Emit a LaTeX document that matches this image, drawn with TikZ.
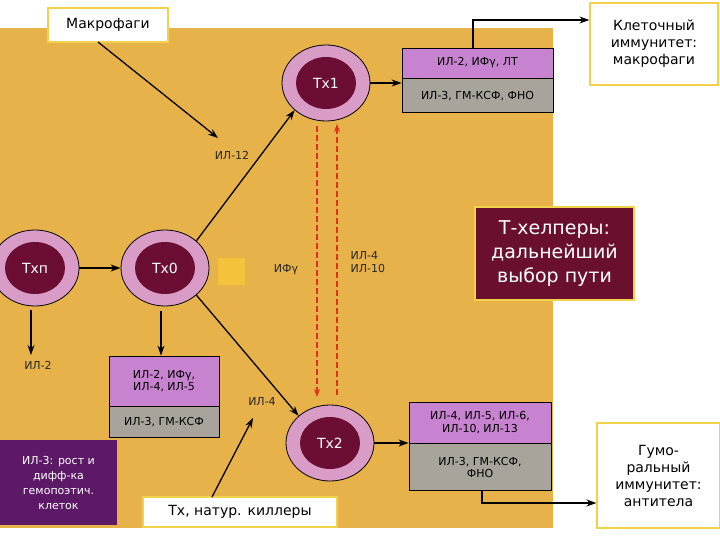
\documentclass[tikz,border=0pt]{standalone}
\usepackage{fontspec}
\setmainfont{DejaVu Sans}
\usetikzlibrary{arrows.meta,shapes.geometric}
\definecolor{bgor}{HTML}{E8B24A}
\definecolor{lilac}{HTML}{C783CF}
\definecolor{grayb}{HTML}{A8A39B}
\definecolor{cellout}{HTML}{D99CC6}
\definecolor{cellin}{HTML}{6C0E33}
\definecolor{maroon}{HTML}{6A0F2E}
\definecolor{violetb}{HTML}{5C1A66}
\definecolor{yel}{HTML}{F2D24A}
\definecolor{redd}{HTML}{E0301E}
\tikzset{
 wbox/.style={draw=yel,line width=1.2pt,fill=white,align=center,font=\fontsize{14}{16}\selectfont,inner sep=0pt},
 lab/.style={font=\fontsize{11}{13}\selectfont,text=black!85},
 cell/.style={ellipse,draw=black,line width=0.8pt,fill=cellout,minimum width=88pt,minimum height=76pt},
 core/.style={ellipse,fill=cellin,minimum width=60pt,minimum height=52pt,text=white,font=\fontsize{14}{16}\selectfont},
 pbox/.style={draw=black,line width=0.8pt,fill=lilac,align=center,font=\fontsize{11}{12.5}\selectfont,inner sep=0pt},
 gbox/.style={draw=black,line width=0.8pt,fill=grayb,align=center,font=\fontsize{11}{12.5}\selectfont,inner sep=0pt},
 arr/.style={-{Stealth[length=10pt,width=7pt]},line width=1.3pt},
 rarr/.style={-{Stealth[length=8pt,width=6pt]},line width=1.6pt,draw=redd,dash pattern=on 6pt off 3pt},
}
\begin{document}
\begin{tikzpicture}[x=1pt,y=-1pt]
\useasboundingbox (0,0) rectangle (720,540);
\fill[bgor] (0,28) rectangle (553,528);
% top boxes
\node[wbox,minimum width=120pt,minimum height=34pt] (mac) at (108,25) {Макрофаги};
\node[wbox,minimum width=128pt,minimum height=82pt,font=\fontsize{14}{17}\selectfont] (cell) at (654,44) {Клеточный\\иммунитет:\\макрофаги};
% cells
\node[cell] (t1o) at (326,83) {}; \node[core] (t1) at (326,83) {Тх1};
\node[cell] (t0o) at (165,268) {}; \node[core] (t0) at (165,268) {Тх0};
\node[cell] (tpo) at (35,268) {}; \node[core] (tp) at (35,268) {Тхп};
\node[cell] (t2o) at (330,443) {}; \node[core] (t2) at (330,443) {Тх2};
% Tx1 boxes
\node[pbox,minimum width=151pt,minimum height=30pt] (b1a) at (477.5,63) {ИЛ-2, ИФγ, ЛТ};
\node[gbox,minimum width=151pt,minimum height=34pt,anchor=north] (b1b) at (b1a.south) {ИЛ-3, ГМ-КСФ, ФНО};
% Tx0 boxes
\node[pbox,minimum width=110pt,minimum height=50pt] (b0a) at (164,381) {ИЛ-2, ИФγ,\\ИЛ-4, ИЛ-5};
\node[gbox,minimum width=110pt,minimum height=31pt,anchor=north] (b0b) at (b0a.south) {ИЛ-3, ГМ-КСФ};
% Tx2 boxes
\node[pbox,minimum width=142pt,minimum height=41pt] (b2a) at (480,422.5) {ИЛ-4, ИЛ-5, ИЛ-6,\\ИЛ-10, ИЛ-13};
\node[gbox,minimum width=142pt,minimum height=47pt,anchor=north] (b2b) at (b2a.south) {ИЛ-3, ГМ-КСФ,\\ФНО};
% other boxes
\node[draw=yel,line width=1.2pt,fill=maroon,text=white,align=center,font=\fontsize{19}{24}\selectfont,minimum width=159pt,minimum height=93pt,inner sep=0pt] (th) at (554.5,253.5) {Т-хелперы:\\дальнейший\\выбор пути};
\node[fill=violetb,text=white,align=center,font=\fontsize{11}{15}\selectfont,minimum width=117pt,minimum height=85pt,inner sep=0pt] (il3) at (58.5,482.5) {ИЛ-3: рост и\\дифф-ка\\гемопоэтич.\\клеток};
\node[wbox,minimum width=194pt,minimum height=30pt] (nk) at (240,512) {Тх, натур. киллеры};
\node[wbox,minimum width=123pt,minimum height=105pt,font=\fontsize{14}{17}\selectfont] (hum) at (658.5,475.5) {Гумо-\\ральный\\иммунитет:\\антитела};
\fill[yel!80!orange] (218,258) rectangle (245,285);
% labels
\node[lab] (l12) at (232,155) {ИЛ-12};
\node[lab] (lifg) at (286,270) {ИФγ};
\node[lab,align=left,anchor=west] (l410) at (347,262) {ИЛ-4\\ИЛ-10};
\node[lab] (l2) at (38,365) {ИЛ-2};
\node[lab] (l4) at (262,401) {ИЛ-4};
\coordinate (a12) at (218,138);
\coordinate (a4) at (253,418);
\coordinate (l2t) at (31,355);
\coordinate (t0d) at (161,311);
\coordinate (tpd) at (31,310);
% arrows
\draw[arr] (98,42) -- (a12);
\draw[arr] (tpo.east) -- (t0o.west);
\draw[arr] (t0o.north east) -- (t1o.south west);
\draw[arr] (t0o.south east) -- (t2o.north west);
\draw[arr] (tpd) -- (l2t);
\draw[arr] (t0d) -- (t0d |- b0a.north);
\draw[arr] (t1o.east) -- (t1o.east -| b1a.west);
\draw[arr] (t2o.east) -- (t2o.east -| b2a.west);
\draw[arr] (212,497) -- (a4);
\draw[arr] (473,48) |- (cell.west |- 0,20);
\draw[arr,line width=2pt] (482,490) |- (hum.west |- 0,503);
\draw[rarr] (317,126) -- (317,397);
\draw[rarr] (337,395) -- (337,124);
\end{tikzpicture}
\end{document}
